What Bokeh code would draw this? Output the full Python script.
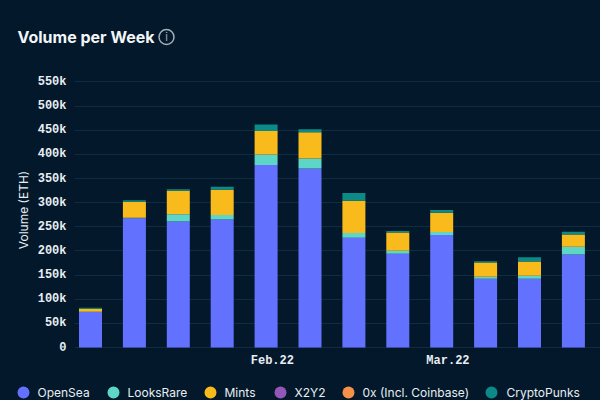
from datetime import datetime
from bokeh.core.properties import value
from bokeh.embed import file_html
from bokeh.layouts import column
from bokeh.resources import INLINE
from bokeh.plotting import figure
from bokeh.models import FixedTicker, NumeralTickFormatter, Range1d, ColumnDataSource

weeks = ["2022-01-03", "2022-01-10", "2022-01-17", "2022-01-24", "2022-01-31", "2022-02-07",
         "2022-02-14", "2022-02-21", "2022-02-28", "2022-03-07", "2022-03-14", "2022-03-21"]
opensea = [73.6, 267.6, 260.8, 265.0, 378.0, 370.8, 227.6, 194.0, 233.2, 142.4, 142.4, 192.6]
looksrare = [0.5, 1.0, 15.2, 9.5, 21.7, 20.6, 9.6, 6.2, 6.2, 4.1, 6.2, 15.9]
mints = [6.4, 33.4, 48.7, 52.2, 48.8, 54.3, 66.8, 37.8, 39.9, 29.5, 29.6, 25.5]
cryptopunks = [2.1, 3.0, 3.3, 6.3, 13.5, 6.3, 16.0, 3.5, 5.5, 2.9, 8.8, 6.0]
series = ["OpenSea", "LooksRare", "Mints", "X2Y2", "0x (Incl. Coinbase)", "CryptoPunks"]
colors = ["#6272fe", "#5dd6c8", "#f9bb1c", "#9158b8", "#f59148", "#0b8a87"]
y_ticks = [0, 50, 100, 150, 200, 250, 300, 350, 400, 450, 500, 550]
x_ticks = {"2022-02-01": "Feb.22", "2022-03-01": "Mar.22"}

swatch_x = [23, 113, 210, 280, 348, 491]
label_x = [37, 127, 224, 294, 362, 506]

BG = "#03182a"
GRID = "#0f2c40"
TXT = "#e8eef2"
W = 600
TOP_H, MAIN_H, LEG_H = 70, 300, 30
MS_WEEK = 7 * 24 * 3600 * 1000.0
BG_STYLE = {"background-color": BG}


def ms(d):
    return (datetime.strptime(d, "%Y-%m-%d") - datetime(1970, 1, 1)).total_seconds() * 1000.0


def strip(height):
    f = figure(width=W, height=height, output_backend="svg", toolbar_location=None,
               x_range=Range1d(0, W), y_range=Range1d(height, 0),
               x_axis_location=None, y_axis_location=None,
               background_fill_color=BG, border_fill_color=BG,
               outline_line_color=BG, outline_line_width=2,
               min_border=0, frame_align=False, styles=BG_STYLE)
    f.grid.visible = False
    return f


top = strip(TOP_H)
top.text([17], [36], text=["Volume per Week"], text_font=value("Inter"), text_font_size="16px",
         text_font_style="bold", text_color="#f2f6f8", text_baseline="middle")
top.scatter([166], [36.5], size=15, fill_alpha=0, line_color="#9fb0bb", line_width=1.5)
top.text([166], [36.5], text=["i"], text_font=value("Inter"), text_font_size="11px",
         text_color="#9fb0bb", text_align="center", text_baseline="middle")

xs = [ms(w) for w in weeks]
PX_PER_WEEK = 43.9
x_start = xs[0] - (90 - 74) / PX_PER_WEEK * MS_WEEK
x_end = xs[0] + (W - 90) / PX_PER_WEEK * MS_WEEK

p = figure(width=W, height=MAIN_H, output_backend="svg", toolbar_location=None,
           x_axis_type="datetime", x_range=Range1d(x_start, x_end), y_range=Range1d(-4.13, 573.8),
           background_fill_color=BG, border_fill_color=BG,
           outline_line_color=BG, outline_line_width=2,
           min_border_left=74, min_border_right=0, min_border_top=0, min_border_bottom=20,
           frame_align=False, styles=BG_STYLE)

src = ColumnDataSource(dict(x=xs, OpenSea=opensea, LooksRare=looksrare, Mints=mints, CryptoPunks=cryptopunks))
stack = ["OpenSea", "LooksRare", "Mints", "CryptoPunks"]
p.vbar_stack(stack, x="x", width=23 / PX_PER_WEEK * MS_WEEK, source=src,
             color=[colors[0], colors[1], colors[2], colors[5]], line_width=0)

p.xgrid.visible = False
p.ygrid.grid_line_color = GRID
p.ygrid.grid_line_width = 1
p.ygrid.ticker = FixedTicker(ticks=y_ticks)

xa = p.xaxis[0]
xa.ticker = FixedTicker(ticks=[ms(d) for d in x_ticks])
xa.major_label_overrides = {ms(d): t for d, t in x_ticks.items()}
ya = p.yaxis[0]
ya.ticker = FixedTicker(ticks=y_ticks)
ya.formatter = NumeralTickFormatter(format='0a')
ya.major_label_overrides = {0: "0", **{t: f"{t}k" for t in y_ticks if t}}
ya.axis_label = "Volume (ETH)"
ya.axis_label_text_font = "Inter"
ya.axis_label_text_font_size = "12px"
ya.axis_label_text_font_style = "normal"
ya.axis_label_text_color = TXT
ya.axis_label_standoff = 4
for a in (xa, ya):
    a.axis_line_color = None
    a.major_tick_line_color = None
    a.minor_tick_line_color = None
    a.major_tick_out = 0
    a.major_tick_in = 0
    a.major_label_text_font = "Liberation Mono"
    a.major_label_text_font_size = "12px"
    a.major_label_text_font_style = "bold"
    a.major_label_text_color = TXT
xa.major_label_standoff = 4
ya.major_label_standoff = 8

leg = strip(LEG_H)
Y = 22
leg.scatter(swatch_x, [Y] * 6, size=12, color=colors, line_width=0)
leg.text(label_x, [Y] * 6, text=series, text_font=value("Inter"), text_font_size="12px",
         text_color=TXT, text_baseline="middle")

page = column(top, p, leg, spacing=0, styles=BG_STYLE)
open("out.html", "w").write(file_html(page, INLINE))
